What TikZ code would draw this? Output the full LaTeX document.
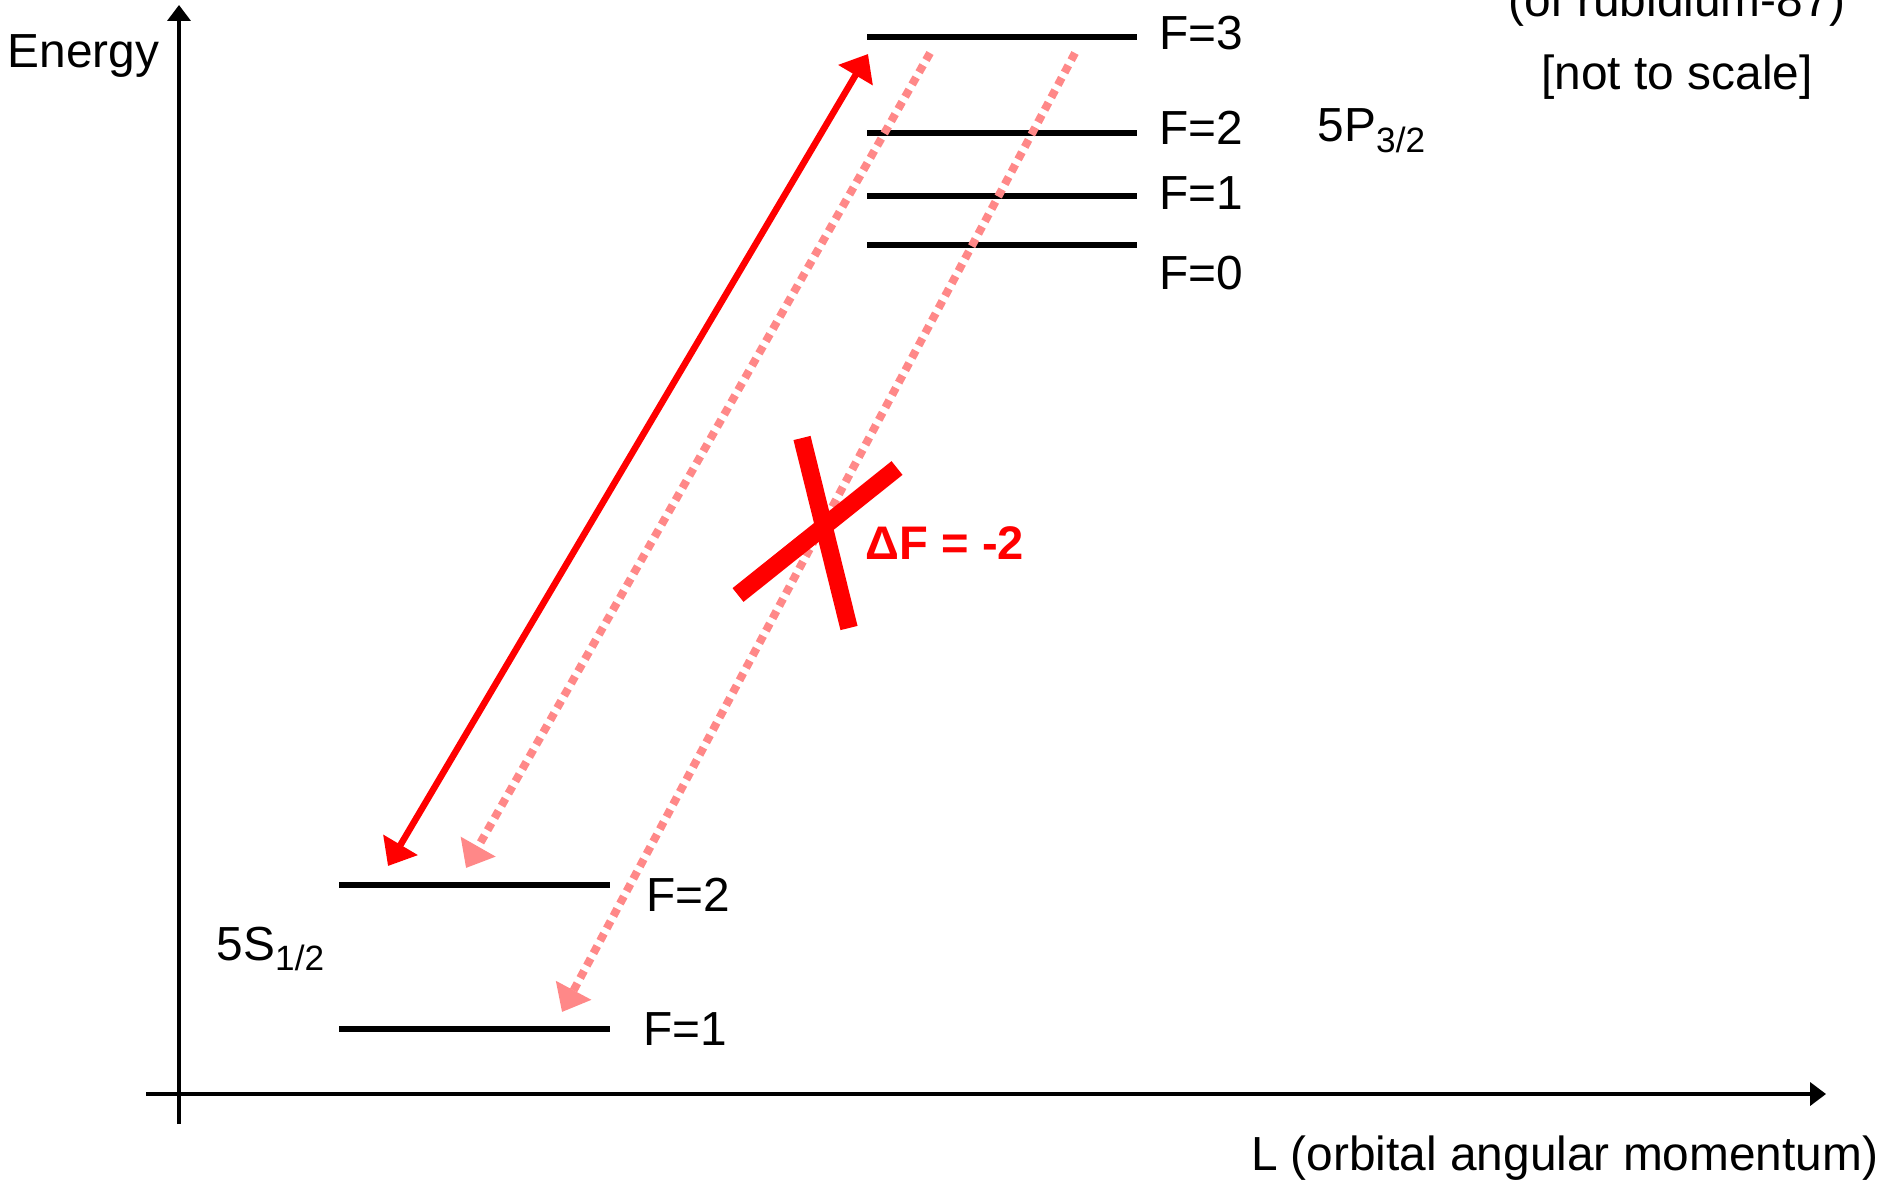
\documentclass[tikz,border=0pt]{standalone}
\usepackage{fontspec}
\setmainfont{Liberation Sans}
\usepackage{tikz}
\usetikzlibrary{arrows.meta}

\definecolor{transred}{RGB}{255,0,0}
\definecolor{decaypink}{RGB}{255,136,136}
\newcommand{\termsub}[1]{\raisebox{-3pt}{\fontsize{10}{12}\selectfont #1}}

\begin{document}
\begin{tikzpicture}[
        x=0.01cm, y=-0.01cm,
        every node/.style={inner sep=0pt, font=\fontsize{13.6}{16}\selectfont},
        lbl/.style={anchor=base west},
        axis/.style={draw, line width=1pt, -{Triangle[length=4.5pt, width=6.5pt]}},
        level/.style={draw, line width=1.6pt},
        pump/.style={draw=transred, line width=1.85pt,
            {Triangle[length=7pt, width=11pt]}-{Triangle[length=7pt, width=11pt]}},
        decay/.style={draw=decaypink, line width=2.3pt, dash pattern=on 2.3pt off 1.7pt,
            -{Triangle[length=7pt, width=11pt]}},
        forbid/.style={draw=transred, line width=5pt}
    ]
        \useasboundingbox (0,0) rectangle (1889,1179);

        \coordinate (ybot) at (179,1124);
        \coordinate (ytop) at (179,5);
        \coordinate (xleft) at (146,1094);
        \coordinate (xright) at (1826,1094);
        \draw[axis] (ybot) -- (ytop);
        \draw[axis] (xleft) -- (xright);

        \node[lbl] (energy) at (7,68) {Energy};
        \node[anchor=base east] (lmom) at (1879,1170) {L (orbital angular momentum)};
        \node[anchor=base] (atom) at (1677,17) {(of rubidium-87)};
        \node[anchor=base] (scale) at (1677,90) {[not to scale]};

        \draw[level] (867,37) coordinate (p3w) -- (1137,37) coordinate (p3e);
        \draw[level] (867,133) coordinate (p2w) -- (1137,133) coordinate (p2e);
        \draw[level] (867,196) coordinate (p1w) -- (1137,196) coordinate (p1e);
        \draw[level] (867,245) coordinate (p0w) -- (1137,245) coordinate (p0e);
        \node[lbl] (p3) at (1159,50) {F=3};
        \node[lbl] (p2) at (1159,145) {F=2};
        \node[lbl] (p1) at (1159,209) {F=1};
        \node[lbl] (p0) at (1159,289) {F=0};
        \node[lbl] (pterm) at (1317,142) {5P\termsub{3/2}};

        \draw[level] (339,885) coordinate (s2w) -- (610,885) coordinate (s2e);
        \draw[level] (339,1029) coordinate (s1w) -- (610,1029) coordinate (s1e);
        \node[lbl] (s2) at (646,911) {F=2};
        \node[lbl] (s1) at (643,1045) {F=1};
        \node[lbl] (sterm) at (216,960) {5S\termsub{1/2}};

        \coordinate (pumplo) at (388,866);
        \coordinate (pumphi) at (868,54);
        \coordinate (decAtop) at (930,53);
        \coordinate (decAbot) at (466,868);
        \coordinate (decBtop) at (1075,53);
        \coordinate (decBbot) at (562,1012);
        \draw[pump] (pumplo) -- (pumphi);
        \draw[decay] (decAtop) -- (decAbot);
        \draw[decay] (decBtop) -- (decBbot);

        \draw[forbid] (802,438) -- (849,628);
        \draw[forbid] (738,595) -- (897,468);
        \node[lbl, text=transred, font=\fontsize{13.4}{16}\selectfont\bfseries] (dF) at (865,559) {ΔF = -2};
    \end{tikzpicture}
\end{document}
